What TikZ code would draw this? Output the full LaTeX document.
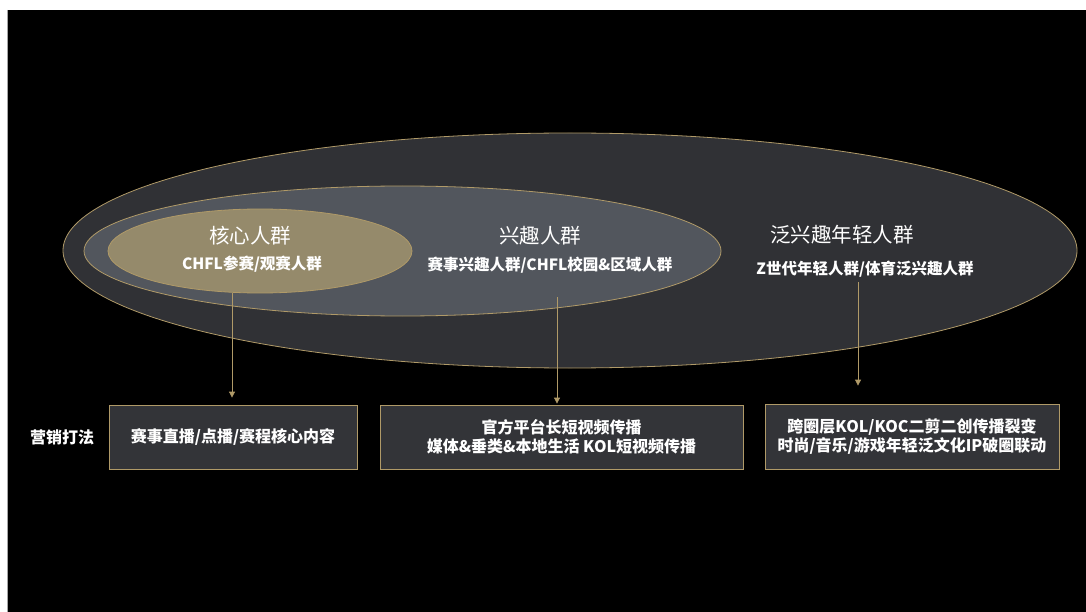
\documentclass[tikz,border=0pt]{standalone}
\usepackage{fontspec}
\setmainfont{Noto Sans CJK SC}
\usetikzlibrary{shapes.geometric,arrows.meta}
\definecolor{gold}{HTML}{B09A68}
\definecolor{outerc}{HTML}{303135}
\definecolor{midc}{HTML}{52565D}
\definecolor{innerc}{HTML}{958A6B}
\definecolor{boxc}{HTML}{333438}
\tikzset{
  ring/.style={ellipse, draw=gold, line width=0.8pt, inner sep=0pt},
  title/.style={text=white, font=\fontsize{20.5}{24}\selectfont},
  sub/.style={text=white, font=\fontsize{15.5}{18}\selectfont\bfseries},
  stratbox/.style={draw=gold, fill=boxc, line width=0.8pt, text=white, align=center,
    font=\fontsize{16}{18.5}\selectfont\bfseries, inner sep=0pt},
  flow/.style={draw=gold, line width=0.8pt, -{Triangle[width=6pt,length=6pt]}}
}
\begin{document}
\begin{tikzpicture}[x=1pt,y=-1pt]
\useasboundingbox (0,0) rectangle (1086,612);
\fill[white] (0,0) rectangle (1086,612);
\fill[black] (7,10) rectangle (1086,612);
\draw[gray!70, line width=0.8pt] (7.4,10) -- (7.4,612);

\node[ring, fill=outerc, minimum width=1014pt, minimum height=235pt] (outer) at (570,250.5) {};
\node[ring, fill=midc, minimum width=637pt, minimum height=130pt] (mid) at (402.5,251) {};
\node[ring, fill=innerc, minimum width=304pt, minimum height=84pt] (inner) at (260,251) {};

\node[title] (t1) at (250,236) {核心人群};
\node[sub] (s1) at (252,264) {CHFL参赛/观赛人群};
\node[title] (t2) at (540,236) {兴趣人群};
\node[sub] (s2) at (550,265) {赛事兴趣人群/CHFL校园\&区域人群};
\node[title] (t3) at (842,235) {泛兴趣年轻人群};
\node[sub] (s3) at (865,269) {Z世代年轻人群/体育泛兴趣人群};

\node[text=white, font=\fontsize{16}{18}\selectfont\bfseries] (lab) at (62,437) {营销打法};

\node[stratbox, minimum width=248pt, minimum height=64pt] (b1) at (233,437) {赛事直播/点播/赛程核心内容};
\node[stratbox, minimum width=363pt, minimum height=64pt] (b2) at (561.5,437) {官方平台长短视频传播\\媒体\&垂类\&本地生活 KOL短视频传播};
\node[stratbox, minimum width=294pt, minimum height=65pt] (b3) at (912,436.5) {跨圈层KOL/KOC二剪二创传播裂变\\时尚/音乐/游戏年轻泛文化IP破圈联动};

\coordinate (a1) at (232,293);
\coordinate (a2) at (557,297);
\coordinate (a3) at (858,282);
\draw[flow, shorten >=7pt] (a1) -- (a1 |- b1.north);
\draw[flow, shorten >=1pt] (a2) -- (a2 |- b2.north);
\draw[flow, shorten >=18pt] (a3) -- (a3 |- b3.north);
\end{tikzpicture}
\end{document}
